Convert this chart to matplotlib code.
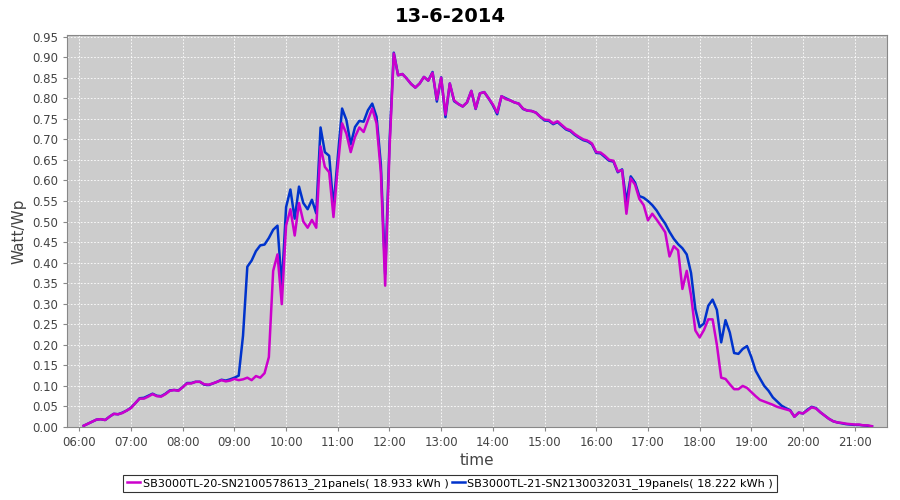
import matplotlib
matplotlib.use("Agg")
import matplotlib.pyplot as plt
import matplotlib.dates as mdates
import pandas as pd

# 5-minute samples from 06:05 to 21:20, one row per hour
pink_kw = [
    0.003, 0.008, 0.013, 0.018, 0.019, 0.017, 0.025, 0.032, 0.031, 0.034, 0.040,
    0.046, 0.058, 0.069, 0.069, 0.074, 0.080, 0.075, 0.074, 0.080, 0.088, 0.090, 0.088,
    0.097, 0.106, 0.106, 0.110, 0.110, 0.104, 0.103, 0.106, 0.110, 0.114, 0.111, 0.113,
    0.117, 0.114, 0.116, 0.120, 0.114, 0.124, 0.120, 0.131, 0.170, 0.380, 0.420, 0.299,
    0.490, 0.530, 0.466, 0.545, 0.500, 0.485, 0.504, 0.485, 0.683, 0.633, 0.620, 0.511,
    0.633, 0.739, 0.714, 0.669, 0.706, 0.729, 0.718, 0.747, 0.775, 0.739, 0.620, 0.344,
    0.673, 0.909, 0.856, 0.859, 0.848, 0.835, 0.826, 0.836, 0.852, 0.843, 0.862, 0.797,
    0.850, 0.760, 0.836, 0.795, 0.786, 0.780, 0.790, 0.818, 0.775, 0.812, 0.815, 0.800,
    0.785, 0.765, 0.805, 0.798, 0.795, 0.790, 0.787, 0.775, 0.770, 0.769, 0.765, 0.755,
    0.748, 0.747, 0.739, 0.744, 0.735, 0.726, 0.722, 0.713, 0.706, 0.700, 0.697, 0.690,
    0.669, 0.668, 0.660, 0.650, 0.648, 0.622, 0.625, 0.519, 0.605, 0.590, 0.555, 0.540,
    0.503, 0.519, 0.505, 0.490, 0.474, 0.415, 0.440, 0.430, 0.336, 0.380, 0.320, 0.235,
    0.218, 0.236, 0.262, 0.262, 0.200, 0.120, 0.117, 0.104, 0.092, 0.092, 0.100, 0.095,
    0.085, 0.075, 0.066, 0.062, 0.058, 0.054, 0.049, 0.046, 0.043, 0.040, 0.025, 0.035,
    0.033, 0.040, 0.048, 0.045, 0.036, 0.028, 0.020, 0.014, 0.011, 0.010, 0.008, 0.007,
    0.006, 0.006, 0.004, 0.004, 0.002,
]
blue_kw = [
    0.003, 0.008, 0.013, 0.018, 0.019, 0.017, 0.025, 0.032, 0.031, 0.035, 0.040,
    0.047, 0.058, 0.070, 0.071, 0.076, 0.081, 0.076, 0.075, 0.081, 0.089, 0.090, 0.089,
    0.097, 0.107, 0.107, 0.110, 0.110, 0.103, 0.102, 0.106, 0.110, 0.115, 0.113, 0.116,
    0.120, 0.125, 0.222, 0.390, 0.405, 0.428, 0.442, 0.444, 0.460, 0.480, 0.490, 0.342,
    0.535, 0.578, 0.507, 0.585, 0.545, 0.530, 0.553, 0.520, 0.729, 0.669, 0.660, 0.535,
    0.657, 0.775, 0.747, 0.688, 0.730, 0.745, 0.743, 0.771, 0.787, 0.755, 0.639, 0.372,
    0.690, 0.911, 0.856, 0.859, 0.848, 0.835, 0.826, 0.836, 0.852, 0.843, 0.864, 0.792,
    0.851, 0.754, 0.836, 0.793, 0.786, 0.780, 0.790, 0.818, 0.774, 0.812, 0.815, 0.800,
    0.783, 0.761, 0.805, 0.800, 0.795, 0.790, 0.787, 0.774, 0.770, 0.769, 0.765, 0.755,
    0.746, 0.745, 0.737, 0.742, 0.733, 0.724, 0.720, 0.711, 0.704, 0.698, 0.695, 0.688,
    0.667, 0.666, 0.657, 0.648, 0.646, 0.620, 0.627, 0.547, 0.610, 0.595, 0.562, 0.558,
    0.550, 0.540, 0.527, 0.510, 0.495, 0.475, 0.458, 0.445, 0.435, 0.420, 0.375, 0.287,
    0.243, 0.252, 0.295, 0.310, 0.285, 0.206, 0.260, 0.230, 0.180, 0.178, 0.190, 0.197,
    0.170, 0.137, 0.118, 0.100, 0.088, 0.072, 0.062, 0.052, 0.046, 0.041, 0.025, 0.035,
    0.033, 0.042, 0.049, 0.046, 0.036, 0.028, 0.020, 0.014, 0.011, 0.009, 0.007, 0.006,
    0.005, 0.005, 0.004, 0.003, 0.001,
]
pink_label = "SB3000TL-20-SN2100578613_21panels( 18.933 kWh )"
blue_label = "SB3000TL-21-SN2130032031_19panels( 18.222 kWh )"
title = "13-6-2014"

times = pd.date_range("2014-06-13 06:05", periods=len(pink_kw), freq="5min")

fig = plt.figure(figsize=(9, 5), dpi=100)
ax = fig.add_axes([0.0744, 0.146, 0.9112, 0.784])
ax.set_facecolor("#cccccc")

ax.plot(times, pink_kw, color="#cc00cc", lw=1.8, label=pink_label, zorder=3)
ax.plot(times, blue_kw, color="#0033cc", lw=1.8, label=blue_label, zorder=2)

ax.set_xlim(pd.Timestamp("2014-06-13 05:45:40"), pd.Timestamp("2014-06-13 21:37:30"))
ax.set_ylim(0, 0.954)
ax.set_yticks([i * 0.05 for i in range(20)])
ax.yaxis.set_major_formatter(matplotlib.ticker.FormatStrFormatter("%.2f"))
ax.xaxis.set_major_locator(mdates.HourLocator())
ax.xaxis.set_major_formatter(mdates.DateFormatter("%H:%M"))

ax.grid(True, color="white", ls=(0, (2, 2)), lw=0.6)
ax.set_axisbelow(True)
for side in ["top", "right", "left", "bottom"]:
    ax.spines[side].set_color("#888888")
ax.tick_params(colors="#888888", labelcolor="#444444", labelsize=8.5, length=3)

ax.set_xlabel("time", fontsize=11, color="#444444", labelpad=3)
ax.set_ylabel("Watt/Wp", fontsize=11, color="#444444", labelpad=4)
fig.suptitle(title, fontsize=14, fontweight="bold", y=0.985)

leg = fig.legend(loc="lower center", bbox_to_anchor=(0.5, 0.004), ncol=2,
                 fontsize=8.1, frameon=True, fancybox=False, handlelength=1.2,
                 handletextpad=0.2, columnspacing=0.3, borderpad=0.3)
leg.get_frame().set_edgecolor("black")
leg.get_frame().set_linewidth(0.8)

fig.savefig("out.png", dpi=100)
